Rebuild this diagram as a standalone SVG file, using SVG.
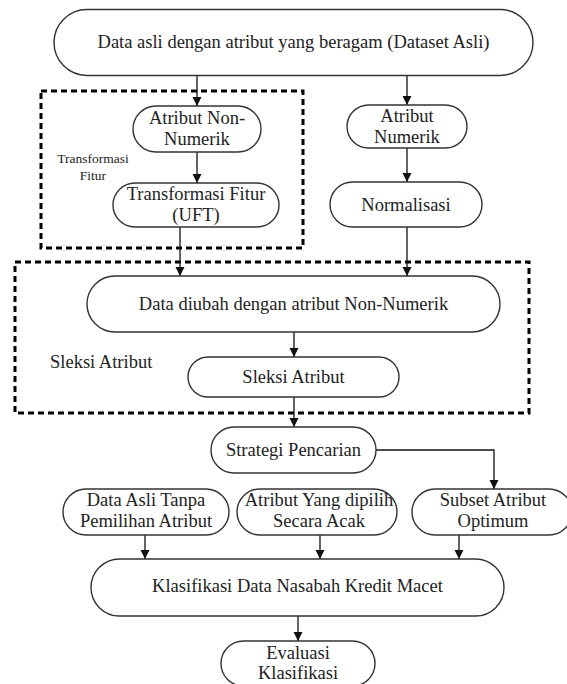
<svg xmlns="http://www.w3.org/2000/svg" width="567" height="684" viewBox="0 0 567 684">
<defs>
<marker id="ah" markerUnits="userSpaceOnUse" markerWidth="10" markerHeight="10" refX="9" refY="4.5" orient="auto">
<path d="M0,0 L9,4.5 L0,9 z" fill="#111"/>
</marker>
<style>
.n{fill:#fff;stroke:#333;stroke-width:1.4}
.t{font-family:"Liberation Serif","Times New Roman",serif;font-size:18.5px;fill:#222;text-anchor:middle}
.s{font-family:"Liberation Serif","Times New Roman",serif;font-size:13.5px;fill:#222;text-anchor:middle}
.d{fill:none;stroke:#000;stroke-width:3;stroke-dasharray:6 4}
.c{fill:none;stroke:#111;stroke-width:1.3;marker-end:url(#ah)}
</style>
</defs>
<rect width="567" height="684" fill="#fff"/>
<g id="groups">
<rect class="d" x="41" y="91" width="262" height="157"/>
<text class="s" x="93" y="163">Transformasi</text>
<text class="s" x="93" y="180">Fitur</text>
<rect class="d" x="15" y="262" width="514" height="151"/>
<text class="t" x="50" y="368" style="text-anchor:start">Sleksi Atribut</text>
</g>
<g id="connectors">
<line class="c" x1="197" y1="75.5" x2="197" y2="106"/>
<line class="c" x1="407" y1="75.5" x2="407" y2="105"/>
<line class="c" x1="197" y1="152" x2="197" y2="183"/>
<line class="c" x1="407" y1="148" x2="407" y2="182"/>
<line class="c" x1="180" y1="227" x2="180" y2="276"/>
<line class="c" x1="407" y1="227" x2="407" y2="276"/>
<line class="c" x1="294" y1="332" x2="294" y2="357"/>
<line class="c" x1="294" y1="397" x2="294" y2="427"/>
<polyline class="c" points="376,450 494,450 494,489"/>
<line class="c" x1="145" y1="535" x2="145" y2="559"/>
<line class="c" x1="320" y1="535" x2="320" y2="559"/>
<line class="c" x1="459" y1="535" x2="459" y2="559"/>
<line class="c" x1="298" y1="616" x2="298" y2="641"/>
</g>
<g id="n-dataset">
<rect class="n" x="54" y="9.5" width="479" height="66" rx="33"/>
<text class="t" x="293.5" y="48">Data asli dengan atribut yang beragam (Dataset Asli)</text>
</g>
<g id="n-nonnum">
<rect class="n" x="133" y="106" width="128" height="46" rx="23"/>
<text class="t" x="197" y="124">Atribut Non-</text>
<text class="t" x="197" y="145">Numerik</text>
</g>
<g id="n-num">
<rect class="n" x="347" y="105" width="120" height="43" rx="21.5"/>
<text class="t" x="407" y="122">Atribut</text>
<text class="t" x="407" y="143">Numerik</text>
</g>
<g id="n-uft">
<rect class="n" x="113" y="183" width="166" height="44" rx="22"/>
<text class="t" x="196" y="200">Transformasi Fitur</text>
<text class="t" x="196" y="221">(UFT)</text>
</g>
<g id="n-norm">
<rect class="n" x="330" y="182" width="152" height="45" rx="22.5"/>
<text class="t" x="406" y="211">Normalisasi</text>
</g>
<g id="n-diubah">
<rect class="n" x="87" y="276" width="413" height="56" rx="28"/>
<text class="t" x="293.5" y="310">Data diubah dengan atribut Non-Numerik</text>
</g>
<g id="n-sleksi">
<rect class="n" x="188" y="357" width="211" height="40" rx="20"/>
<text class="t" x="293.5" y="383">Sleksi Atribut</text>
</g>
<g id="n-strategi">
<rect class="n" x="211" y="427" width="165" height="46" rx="23"/>
<text class="t" x="293.5" y="456">Strategi Pencarian</text>
</g>
<g id="n-asli">
<rect class="n" x="63" y="489" width="166" height="46" rx="23"/>
<text class="t" x="146" y="506">Data Asli Tanpa</text>
<text class="t" x="146" y="527">Pemilihan Atribut</text>
</g>
<g id="n-acak">
<rect class="n" x="237" y="489" width="160" height="46" rx="23"/>
<text class="t" x="319" y="506">Atribut Yang dipilih</text>
<text class="t" x="319" y="527">Secara Acak</text>
</g>
<g id="n-subset">
<rect class="n" x="412" y="489" width="160" height="46" rx="23"/>
<text class="t" x="493" y="506">Subset Atribut</text>
<text class="t" x="493" y="527">Optimum</text>
</g>
<g id="n-klasifikasi">
<rect class="n" x="91" y="559" width="413" height="57" rx="28.5"/>
<text class="t" x="297.5" y="592">Klasifikasi Data Nasabah Kredit Macet</text>
</g>
<g id="n-evaluasi">
<rect class="n" x="221" y="641" width="154" height="45" rx="22.5"/>
<text class="t" x="298" y="659">Evaluasi</text>
<text class="t" x="298" y="679">Klasifikasi</text>
</g>
</svg>
